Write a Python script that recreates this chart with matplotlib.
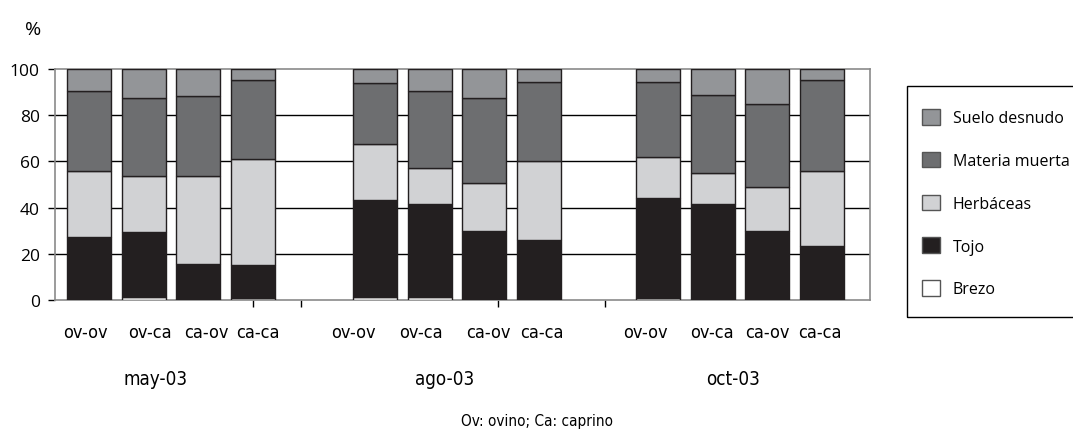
import matplotlib
matplotlib.use("Agg")
import matplotlib.pyplot as plt
from matplotlib.patches import Patch, Rectangle

# datos (% de cobertura)
months = ["may-03", "ago-03", "oct-03"]
treatments = ["ov-ov", "ov-ca", "ca-ov", "ca-ca"]

brezo = [0.4, 1.2, 0.3, 1.0, 1.2, 1.1, 0.6, 0.2, 0.7, 0.2, 0.2, 0.2]
tojo = [26.7, 28.4, 15.3, 14.2, 42.1, 40.3, 29.4, 25.6, 43.6, 41.2, 29.8, 23.0]
herbaceas = [28.9, 23.9, 38.2, 45.7, 24.1, 15.9, 20.6, 34.5, 17.7, 13.4, 19.0, 32.6]
materia = [34.3, 33.8, 34.6, 34.3, 26.7, 33.0, 36.7, 34.2, 32.5, 33.8, 35.8, 39.3]
suelo = [9.7, 12.7, 11.6, 4.8, 5.9, 9.7, 12.7, 5.5, 5.5, 11.4, 15.2, 4.9]

series = [
    ("Brezo", brezo, "#ffffff"),
    ("Tojo", tojo, "#231f20"),
    ("Herbáceas", herbaceas, "#d1d2d4"),
    ("Materia muerta", materia, "#6d6e70"),
    ("Suelo desnudo", suelo, "#939598"),
]

# posiciones (en pixeles de la figura original)
group_start = [89, 375, 658]
step = 54.5
width = 44
xpos = [g + i * step for g in group_start for i in range(len(treatments))]
label_x = [85, 150, 206, 258, 353, 421, 488, 542, 645, 712, 767, 820]
month_x = [156, 445, 733]

W, H = 1073, 431
fig = plt.figure(figsize=(W / 100, H / 100), dpi=100)
ax = fig.add_axes([55 / W, 1 - 301 / H, 815 / W, 231 / H])

narrow = dict(family=["Liberation Sans Narrow", "DejaVu Sans"],
              stretch="condensed")
main = ["Open Sans", "DejaVu Sans"]

edge = "#231f20"
bottom = [0.0] * len(xpos)
for name, vals, col in series:
    ax.bar(xpos, vals, width, bottom=bottom, color=col, edgecolor=edge,
           linewidth=1.0, zorder=3)
    bottom = [b + v for b, v in zip(bottom, vals)]

# lineas de division
for yv in [20, 40, 60, 80]:
    ax.axhline(yv, color="black", lw=1.0, zorder=1)

ax.set_xlim(55, 870)
ax.set_ylim(0, 100)
for s in ax.spines.values():
    s.set_color("#8a8a8a")
    s.set_linestyle((0, (1, 1)))
    s.set_linewidth(1.2)

ax.set_yticks([0, 20, 40, 60, 80, 100])
ax.set_yticklabels(["0", "20", "40", "60", "80", "100"], fontsize=12.5,
                   family=main)
ax.tick_params(axis="y", direction="out", length=5, width=1, color="black",
               pad=6)
ax.set_xticks([253, 301, 498, 605])
ax.set_xticklabels([])
ax.tick_params(axis="x", direction="out", length=5, width=1, color="black")

fig.text(33 / W, 1 - 30 / H, "%", fontsize=14, family=main,
         ha="center", va="center")

xt = ax.get_xaxis_transform()
for x, lab in zip(label_x, treatments * 3):
    ax.text(x, 1 - (333 - 70) / 231, lab, transform=xt,
            fontsize=13, ha="center", va="center", **narrow)
for x, lab in zip(month_x, months):
    ax.text(x, 1 - (380 - 70) / 231, lab, transform=xt,
            fontsize=13.5, ha="center", va="center", **narrow)

fig.text(537 / W, 1 - 422 / H, "Ov: ovino; Ca: caprino", fontsize=11,
         ha="center", va="center", **narrow)

# leyenda con marco propio
fig.patches.append(Rectangle((907 / W, 1 - 318 / H), 200 / W, 231 / H,
                             transform=fig.transFigure, fill=False,
                             edgecolor="black", lw=1.0))
handles = [Patch(facecolor=col, edgecolor="#555555", lw=1.0, label=name)
           for name, vals, col in reversed(series)]
fig.legend(handles=handles, loc="upper left",
           bbox_to_anchor=(922 / W, 1 - 110 / H), frameon=False,
           borderpad=0, borderaxespad=0, handlelength=1.125,
           handleheight=1.125, handletextpad=0.8, labelspacing=1.6,
           prop={"family": main, "size": 11.5})

fig.savefig("out.png", dpi=100)
